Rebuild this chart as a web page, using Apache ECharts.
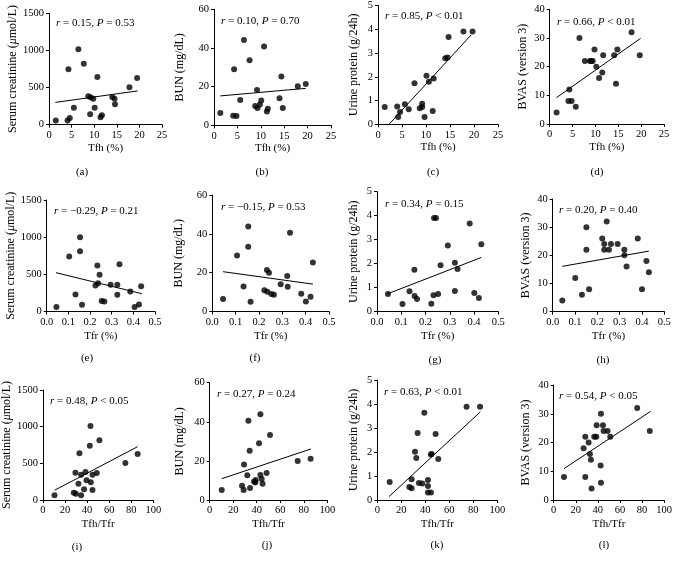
<!DOCTYPE html>
<html><head><meta charset="utf-8">
<script src="https://cdn.jsdelivr.net/npm/echarts@6/dist/echarts.min.js"></script>
<style>html,body{margin:0;padding:0;background:#fff}#c{width:675px;height:563px}</style>
</head><body><div id="c"></div>
<script>
// ---------- DATA ----------
const captions = ['(a)','(b)','(c)','(d)','(e)','(f)','(g)','(h)','(i)','(j)','(k)','(l)'];
const yTitles = ['Serum creatinine ({i|\u03bc}mol/L)','BUN (mg/dL)','Urine protein (g/24h)','BVAS (version 3)'];
const xTitles = ['Tfh (%)','Tfr (%)','Tfh/Tfr'];
const rValues = ['0.15','0.10','0.85','0.66','\u22120.29','\u22120.15','0.34','0.20','0.48','0.27','0.63','0.54'];
const pValues = ['= 0.53','= 0.70','< 0.01','< 0.01','= 0.21','= 0.53','= 0.15','= 0.40','< 0.05','= 0.24','< 0.01','< 0.05'];
const yMaxTicks = [1500, 60, 5, 40];
const yIntervals = [500, 20, 1, 10];
const xMaxTicks = [25, 0.5, 100];
const xIntervals = [5, 0.1, 20];

const dataA = [[1.5,58],[4.1,58],[4.6,90],[4.3,745],[5.5,229],[6.5,1015],[7.7,822],[8.7,382],[9.2,368],[9.8,350],[9.1,140],[10.1,229],[10.7,642],[11.4,99],[11.7,126],[14.0,373],[14.5,350],[14.6,274],[17.8,503],[19.5,629]];
const dataB = [[1.35,6.4],[4.1,5.0],[4.8,4.8],[4.3,29],[5.6,13.1],[6.4,44.1],[7.6,33.6],[8.8,10],[9.3,9.0],[9.2,18.3],[9.8,10.7],[10.1,12.8],[10.7,40.7],[11.3,7.2],[11.5,8.6],[14.0,14],[14.4,25.3],[14.7,9.0],[17.9,20.2],[19.6,21.4]];
const dataC = [[1.4,0.73],[4.0,0.75],[4.2,0.31],[4.6,0.52],[5.6,0.84],[6.4,0.63],[7.6,1.73],[8.7,0.68],[9.2,0.87],[9.2,0.73],[9.7,0.31],[10.1,2.04],[10.6,1.79],[11.4,0.56],[11.6,1.93],[14.0,2.78],[14.5,2.81],[14.7,3.67],[17.8,3.91],[19.7,3.91]];
const dataD = [[1.5,4],[4.1,8],[4.8,8],[4.3,12],[5.7,6],[6.5,30],[7.7,22],[8.8,22],[9.4,22],[9.1,22],[9.8,26],[10.2,20],[10.8,16],[11.5,18],[11.7,24],[14.1,24],[14.5,14],[14.8,26],[17.9,32],[19.7,24]];
const dataE = [[0.045,60],[0.104,740],[0.154,1000],[0.154,810],[0.133,230],[0.163,90],[0.225,350],[0.234,620],[0.237,380],[0.244,495],[0.254,140],[0.266,135],[0.295,360],[0.326,360],[0.326,225],[0.336,635],[0.386,270],[0.406,60],[0.426,95],[0.436,340]];
const dataF = [[0.046,6.4],[0.106,28.8],[0.134,12.9],[0.154,43.8],[0.154,33.4],[0.164,5.0],[0.223,11.0],[0.234,21.4],[0.243,20.0],[0.236,10.2],[0.253,9.0],[0.264,8.6],[0.293,14.0],[0.321,18.3],[0.323,12.8],[0.333,40.5],[0.381,9.1],[0.401,5.2],[0.421,7.6],[0.431,25.3]];
const dataG = [[0.045,0.74],[0.105,0.32],[0.134,0.85],[0.154,1.75],[0.155,0.65],[0.165,0.53],[0.224,0.33],[0.233,0.69],[0.235,3.9],[0.243,3.9],[0.252,0.74],[0.262,1.94],[0.292,2.76],[0.321,0.86],[0.321,2.04],[0.332,1.78],[0.382,3.67],[0.401,0.78],[0.42,0.57],[0.43,2.81]];
const dataH = [[0.043,4],[0.101,12],[0.131,6],[0.151,30],[0.151,22],[0.163,8],[0.222,26],[0.231,24],[0.231,22],[0.242,32],[0.252,22],[0.261,24],[0.291,24],[0.321,22],[0.321,20],[0.331,16],[0.381,26],[0.40,8],[0.42,18],[0.431,14]];
const dataI = [[10.5,64],[28,100],[29.8,86],[29.5,373],[32.2,223],[33.1,636],[34.6,345],[34.6,64],[37.3,145],[38.6,382],[39.5,268],[42.5,741],[43.1,1009],[43.4,241],[44.9,345],[44.9,136],[48.8,368],[51.2,814],[74.7,505],[85.8,627]];
const dataJ = [[10.2,5.1],[27.5,7.3],[28.9,5.1],[29.2,18.1],[32.0,12.6],[32.9,40.5],[34.0,25.2],[34.3,6.1],[37.7,9.5],[38.8,8.9],[39.1,10.2],[41.9,29.0],[43.1,43.8],[43.1,12.8],[44.2,10.7],[45.0,8.3],[48.4,13.8],[51.3,33.2],[74.8,19.9],[85.8,21.1]];
const dataK = [[10.3,0.75],[26.7,0.54],[28.6,0.49],[28.6,0.86],[31.4,2.01],[32.5,1.75],[33.6,2.79],[34.7,0.71],[37.5,0.69],[39.2,3.64],[42.2,0.83],[42.2,0.58],[42.2,0.31],[44.7,0.31],[44.7,1.9],[45.2,1.92],[48.6,2.75],[50.8,1.71],[74.4,3.89],[85.6,3.89]];
const dataL = [[9.3,8],[27.1,18],[28.6,22],[28.6,8],[31.6,20],[32.8,16],[33.7,14],[34.3,4],[36.7,22],[38.6,22],[38.9,26],[42.5,12],[42.8,6],[42.8,30],[44.6,26],[45.2,24],[48.8,24],[51.2,22],[75.6,32],[87.0,24]];

const fitA = [[1.4,300],[19.6,455]];
const fitB = [[1.35,15.2],[19.6,19.1]];
const fitC = [[2.3,0],[19.4,3.76]];
const fitD = [[1.5,9.2],[19.9,29.9]];
const fitE = [[0.043,522],[0.44,239]];
const fitF = [[0.046,20.5],[0.431,14.1]];
const fitG = [[0.045,0.75],[0.43,2.26]];
const fitH = [[0.043,16.1],[0.431,21.5]];
const fitI = [[10.5,132],[85.8,727]];
const fitJ = [[10.2,10.9],[86.1,26.1]];
const fitK = [[9.7,0.14],[85.8,3.67]];
const fitL = [[9.3,10.9],[87.7,30.8]];

// ---------- LAYOUT ----------
const scatterSets = [dataA,dataB,dataC,dataD,dataE,dataF,dataG,dataH,dataI,dataJ,dataK,dataL];
const fitSets = [fitA,fitB,fitC,fitD,fitE,fitF,fitG,fitH,fitI,fitJ,fitK,fitL];
const rects = [
  [49,13.3,162,124.7],[214,9.3,331,125.3],[378,5,498,124.3],[549.7,9.3,664,124],
  [46.7,200,155,311.5],[212.3,195,329,311.5],[377,191.7,498.3,311.7],[552.7,199,664.3,311.7],
  [42.7,390,153.3,500],[209.7,382.7,327.3,500],[377.3,380,497.3,500],[553.7,385,664.3,500]
];
const yNameGaps = [27,28,18,20.7,26,27,17,21,27.4,23.7,17,21.7];
const xNameGaps = [17.5,17.5,17.5,17.5,19,19,19,19,19,19,19,19];
const annPos = [[56,24],[221,21.7],[385,17.3],[557,22.7],[54,211.7],[221,208.3],[385,205],[559,211],[50,402.3],[217,395],[384,393.3],[559,397.3]];
const capPos = [[82,172],[262,172],[433,172],[597,172],[87,358],[255,358],[435,360],[603,360],[77,546.7],[267,545],[437,545],[604,545]];

const FONT = "'Liberation Serif','Times New Roman',serif";
const grids=[], xAxes=[], yAxes=[], series=[], graphics=[];
const axisCommon = {
  axisLine:{show:true,onZero:false,lineStyle:{color:'#000',width:1}},
  axisTick:{show:true,length:3,lineStyle:{color:'#000',width:1}},
  splitLine:{show:false},
};
for (let p=0;p<12;p++){
  const r=rects[p], row=Math.floor(p/4), col=p%4;
  grids.push({left:r[0],top:r[1],width:r[2]-r[0],height:r[3]-r[1],containLabel:false});
  xAxes.push(Object.assign({type:'value',gridIndex:p,min:0,max:xMaxTicks[row],interval:xIntervals[row],
    name:xTitles[row],nameLocation:'middle',nameGap:xNameGaps[p],
    nameTextStyle:{fontFamily:FONT,fontSize:11,color:'#000'},
    axisLabel:{fontFamily:FONT,fontSize:10.5,color:'#000',margin:5,
      formatter:v=>row===1?v.toFixed(1):String(Math.round(v))}},axisCommon));
  yAxes.push(Object.assign({type:'value',gridIndex:p,min:0,max:yMaxTicks[col],interval:yIntervals[col],
    name:yTitles[col],nameLocation:'middle',nameGap:yNameGaps[p],
    nameTextStyle:{fontFamily:FONT,fontSize:12,color:'#000',rich:{i:{fontFamily:FONT,fontSize:12,fontStyle:'italic',color:'#000'}}},
    axisLabel:{fontFamily:FONT,fontSize:10.5,color:'#000',margin:5,formatter:v=>String(Math.round(v))}},axisCommon));
  series.push({type:'scatter',xAxisIndex:p,yAxisIndex:p,data:scatterSets[p],symbolSize:6,
    itemStyle:{color:'#000'},silent:true});
  series.push({type:'line',xAxisIndex:p,yAxisIndex:p,data:fitSets[p],symbol:'none',
    lineStyle:{color:'#000',width:1},silent:true});
  graphics.push({type:'text',left:annPos[p][0],top:annPos[p][1]-6.5,
    style:{text:'{i|r} = '+rValues[p]+', {i|P} '+pValues[p],fontFamily:FONT,fontSize:11,fill:'#000',
      rich:{i:{fontFamily:FONT,fontSize:11,fontStyle:'italic',fill:'#000'}}}});
  graphics.push({type:'text',x:capPos[p][0],y:capPos[p][1],
    style:{text:captions[p],fontFamily:FONT,fontSize:11,fill:'#000',align:'center',verticalAlign:'middle'}});
}
const chart = echarts.init(document.getElementById('c'),null,{renderer:'canvas'});
chart.setOption({animation:false,backgroundColor:'#fff',grid:grids,xAxis:xAxes,yAxis:yAxes,series:series,graphic:graphics});
</script></body></html>
